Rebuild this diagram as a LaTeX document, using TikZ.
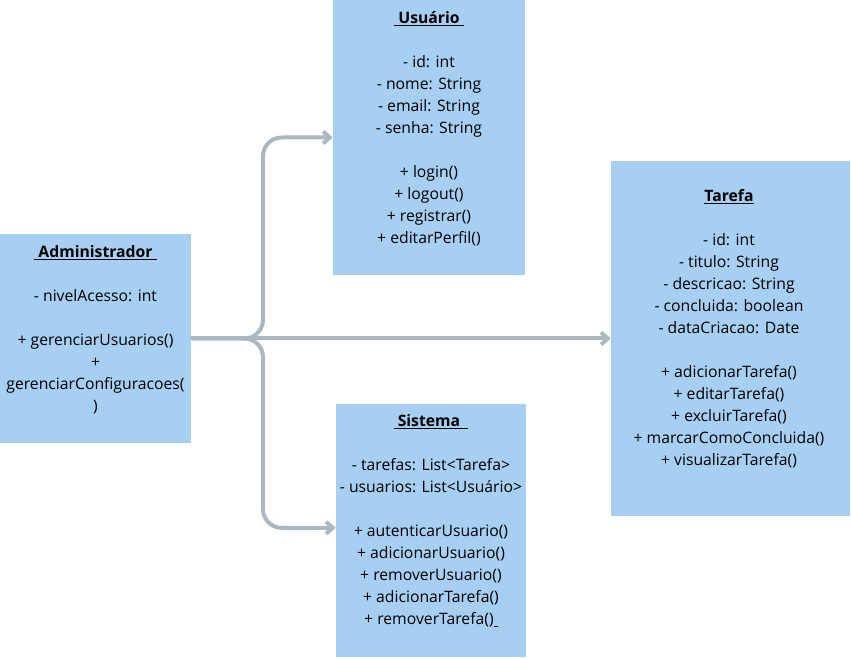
\documentclass[tikz,border=0pt]{standalone}
\usepackage{fontspec}
\setmainfont{Open Sans}
\usepackage{xcolor}
\usetikzlibrary{arrows.meta, positioning}

\definecolor{boxblue}{RGB}{166,207,242}
\definecolor{linkgray}{RGB}{172,184,191}

\begin{document}
\begin{tikzpicture}[
  x=0.75pt, y=-0.75pt,
  umlbox/.style={
    rectangle,
    fill=boxblue,
    inner sep=0pt
  },
  members/.style={
    anchor=north,
    align=center,
    inner sep=0pt,
    font=\fontsize{11.8}{16.5}\selectfont
  },
  link/.style={
    -{Straight Barb[length=5pt, width=9pt]},
    line width=3pt,
    draw=linkgray,
    rounded corners=14pt
  }
]
\useasboundingbox (0,0) rectangle (851,659);

% Classes
\node[umlbox, minimum width=143.25pt, minimum height=156.75pt] (admin) at (95.5,338.5) {};
\node[umlbox, minimum width=144pt, minimum height=206.25pt] (usuario) at (429,137.5) {};
\node[umlbox, minimum width=142.5pt, minimum height=189.75pt] (sistema) at (431,530.5) {};
\node[umlbox, minimum width=179.25pt, minimum height=266.25pt] (tarefa) at (730.5,338.5) {};

% Members
\node[members] (admin-text) at (95.5,245) {%
  \textbf{\underline{\ Administrador\ }}\\[16.5pt]
  - nivelAcesso: int\\[16.5pt]
  + gerenciarUsuarios()\\ +\\ gerenciarConfiguracoes(\\ )};
\node[members] (usuario-text) at (429,11) {%
  \textbf{\underline{\ Usuário\ }}\\[16.5pt]
  - id: int\\ - nome: String\\ - email: String\\ - senha: String\\[16.5pt]
  + login()\\ + logout()\\ + registrar()\\ + editarPerfil()};
\node[members] (sistema-text) at (431,414) {%
  \textbf{\underline{\ Sistema\ \ }}\\[16.5pt]
  - tarefas: List<Tarefa>\\ - usuarios: List<Usuário>\\[16.5pt]
  + autenticarUsuario()\\ + adicionarUsuario()\\ + removerUsuario()\\
  + adicionarTarefa()\\ + removerTarefa()\underline{\ }};
\node[members] (tarefa-text) at (729,189) {%
  \textbf{\underline{Tarefa}}\\[16.5pt]
  - id: int\\ - titulo: String\\ - descricao: String\\ - concluida: boolean\\
  - dataCriacao: Date\\[16.5pt]
  + adicionarTarefa()\\ + editarTarefa()\\ + excluirTarefa()\\
  + marcarComoConcluida()\\ + visualizarTarefa()};

% Connections
\coordinate (fork) at (263,338.5);
\draw[link] (admin.east) -- (tarefa.west);
\draw[link] (admin.east) -- (fork) |- (usuario.west);
\draw[link] (admin.east) -- (fork) |- ([yshift=2pt]sistema.west);
\end{tikzpicture}
\end{document}
